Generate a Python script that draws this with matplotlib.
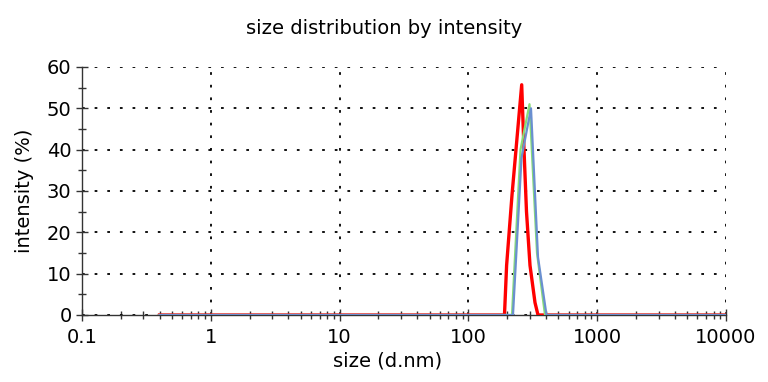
import matplotlib
matplotlib.use("Agg")
import matplotlib.pyplot as plt
from matplotlib.ticker import LogLocator, FixedLocator, NullFormatter

# sizes (d.nm) and intensities (%)
red_size = [0.4, 190.6, 198.0, 218.0, 259.3, 270.2, 282.5, 300.8, 328.9, 347.0, 400.4, 10000]
red_int = [0, 0, 12, 29, 55.7, 40, 25, 12, 3, 0, 0, 0]

green_size = [0.4, 218.0, 253.8, 298.1, 341.0, 393.3, 10000]
green_int = [0, 0, 40, 51, 15, 0, 0]

blue_size = [0.4, 221.9, 258.4, 306.2, 347.0, 404.0, 10000]
blue_int = [0, 0, 38, 50, 14, 0, 0]

xticks = [0.1, 1, 10, 100, 1000, 10000]
xticklabels = ["0.1", "1", "10", "100", "1000", "10000"]
yticks = [0, 10, 20, 30, 40, 50, 60]

fig = plt.figure(figsize=(7.68, 3.82), dpi=100)
ax = fig.add_axes([82/768, 1-315/382, (726-82)/768, (315-67)/382])

ax.plot(red_size, red_int, color="#ff0000", lw=2.4, zorder=3)
ax.plot(green_size, green_int, color="#88dd77", lw=1.6, zorder=4)
ax.plot(blue_size, blue_int, color="#6a8fd0", lw=1.6, zorder=5)

ax.set_xscale("log")
ax.set_xlim(0.1, 10000)
ax.set_ylim(0, 60)
ax.set_xticks(xticks)
ax.set_xticklabels(xticklabels)
ax.xaxis.set_minor_locator(LogLocator(base=10, subs=range(2, 10)))
ax.xaxis.set_minor_formatter(NullFormatter())
ax.set_yticks(yticks)
ax.yaxis.set_minor_locator(FixedLocator([5, 15, 25, 35, 45, 55]))

ax.grid(True, which="major", color="black", linestyle=(0, (1.5, 5.5)), lw=1.3)
for s in ["top", "right"]:
    ax.spines[s].set_visible(False)
for s in ["left", "bottom"]:
    ax.spines[s].set_color("#333333")
    ax.spines[s].set_linewidth(1.0)

ax.tick_params(axis="both", which="major", direction="inout", length=9, width=1,
               labelsize=14, color="#333333")
ax.tick_params(axis="both", which="minor", direction="inout", length=6, width=1, color="#333333")
ax.tick_params(axis="x", which="major", pad=5)
ax.tick_params(axis="y", which="major", pad=3)

fig.text(0.5, 1-28/382, "size distribution by intensity", fontsize=14, ha="center", va="center")
fig.text(388/768, 1-361/382, "size (d.nm)", fontsize=14, ha="center", va="center")
ax.set_ylabel("intensity (%)", fontsize=14, labelpad=9)

fig.savefig("out.png", dpi=100)
